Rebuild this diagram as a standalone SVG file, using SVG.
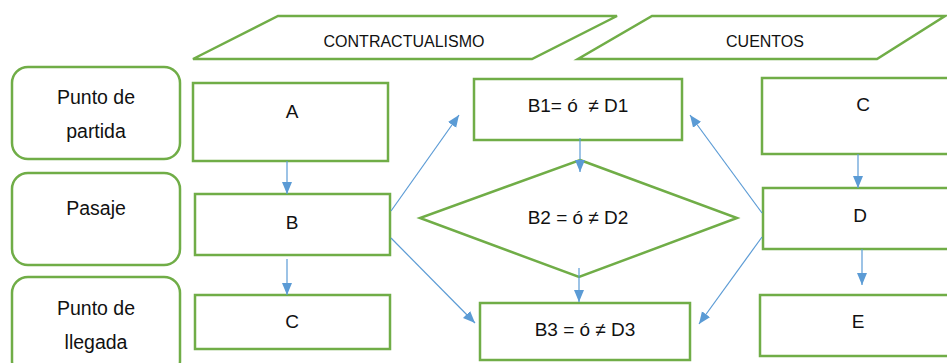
<svg xmlns="http://www.w3.org/2000/svg" width="947" height="363" viewBox="0 0 947 363">
<style>
.n{fill:#fff;stroke:#70AD47;stroke-width:2.5}
.t{font-family:"Liberation Sans",Arial,sans-serif;font-size:19px;fill:#111;text-anchor:middle;white-space:pre}
.l{font-size:19.5px}
.h{font-size:16px}
.c{fill:none;stroke:#5B9BD5;stroke-width:1.2;marker-end:url(#ah)}
</style>
<defs>
<marker id="ah" markerUnits="userSpaceOnUse" markerWidth="12" markerHeight="12" viewBox="0 0 12 10" refX="12" refY="5" orient="auto">
<path d="M0,0 L12,5 L0,10 Z" fill="#5B9BD5"/>
</marker>
</defs>
<rect width="947" height="363" fill="#fff"/>
<g id="punto-partida"><rect class="n" x="12" y="67" width="168" height="92" rx="16"/><text class="t l" x="96" y="104">Punto de</text><text class="t l" x="96" y="138">partida</text></g>
<g id="pasaje"><rect class="n" x="12" y="173" width="168" height="92" rx="16"/><text class="t l" x="96" y="215">Pasaje</text></g>
<g id="punto-llegada"><rect class="n" x="12" y="277" width="168" height="100" rx="16"/><text class="t l" x="96" y="315">Punto de</text><text class="t l" x="96" y="349">llegada</text></g>
<g id="contractualismo"><polygon class="n" points="278,16 617,16 532,59 193,59"/><text class="t h" x="404" y="47">CONTRACTUALISMO</text></g>
<g id="cuentos"><polygon class="n" points="652,16 945,16 877,59 578,59"/><text class="t h" x="765" y="47">CUENTOS</text></g>
<g id="A"><rect class="n" x="193" y="83" width="195" height="78"/><text class="t" x="292" y="118">A</text></g>
<g id="B"><rect class="n" x="195" y="194" width="195" height="61"/><text class="t" x="292" y="229">B</text></g>
<g id="C"><rect class="n" x="195" y="295" width="195" height="54"/><text class="t" x="292" y="328">C</text></g>
<g id="B1"><rect class="n" x="474" y="79" width="208" height="61"/><text class="t" x="578" y="112">B1= ó  ≠ D1</text></g>
<g id="B2"><polygon class="n" points="580,160 737,218 579,277 420,218"/><text class="t" x="578" y="224">B2 = ó ≠ D2</text></g>
<g id="B3"><rect class="n" x="480" y="303" width="210" height="57"/><text class="t" x="585" y="336">B3 = ó ≠ D3</text></g>
<g id="C2"><rect class="n" x="762" y="78" width="200" height="76"/><text class="t" x="863" y="111">C</text></g>
<g id="D"><rect class="n" x="763" y="188" width="200" height="61"/><text class="t" x="860" y="222">D</text></g>
<g id="E"><rect class="n" x="760" y="295" width="200" height="61"/><text class="t" x="858" y="328">E</text></g>
<g id="connectors">
<line class="c" x1="287" y1="161" x2="287" y2="194"/>
<line class="c" x1="287" y1="259" x2="287" y2="295"/>
<line class="c" x1="391" y1="211" x2="459" y2="115"/>
<line class="c" x1="391" y1="238" x2="475" y2="323"/>
<line class="c" x1="580" y1="138" x2="580" y2="172"/>
<line class="c" x1="579" y1="268" x2="579" y2="302"/>
<line class="c" x1="762" y1="213" x2="690" y2="115"/>
<line class="c" x1="762" y1="237" x2="699" y2="324"/>
<line class="c" x1="858" y1="154" x2="858" y2="188"/>
<line class="c" x1="862" y1="249" x2="862" y2="285"/>
</g>
</svg>
